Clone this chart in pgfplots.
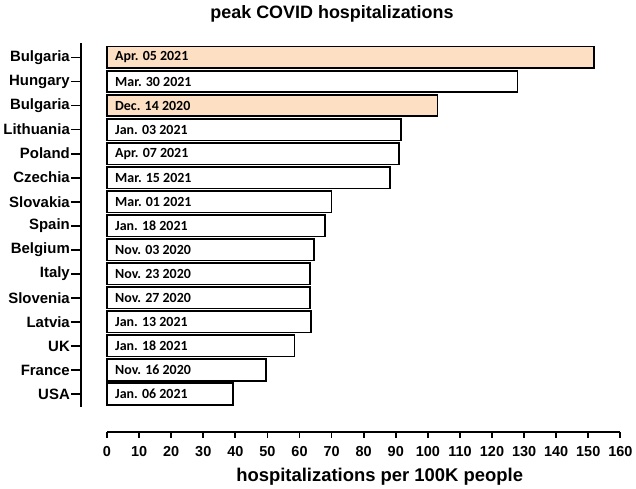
\documentclass[border=0pt]{standalone}
\usepackage{fontspec}
\setmainfont{Liberation Sans}
\newfontfamily\calibri{Carlito}
\usepackage{pgfplots}
\pgfplotsset{compat=1.18}
\definecolor{peach}{RGB}{253,223,196}
\begin{document}
\begin{tikzpicture}[x=1bp,y=1bp]
\useasboundingbox (0,0) rectangle (636,489);
% main bar axis
\begin{axis}[
  at={(81bp,82bp)}, anchor=south west,
  x=3.2083bp, y=24.04bp,
  xmin=-8.1, xmax=160,
  ymin=-0.54, ymax=14.6,
  hide x axis,
  axis y line*=left,
  y axis line style={line width=1.8bp},
  ytick={0,...,14},
  yticklabels={USA,France,UK,Latvia,Slovenia,Italy,Belgium,Spain,Slovakia,Czechia,Poland,Lithuania,Bulgaria,Hungary,Bulgaria},
  tick align=outside,
  major tick length=10bp,
  ytick style={line width=1.8bp, black},
  yticklabel style={font=\bfseries\fontsize{15}{15}\selectfont, inner sep=1bp},
  clip=false,
]
\addplot[xbar, bar width=21.5bp, bar shift=0pt, fill=white, draw=black, line width=1.6bp]
  table[col sep=comma, row sep=\\, x=v, y=y] {
v,y\\
39.2,0\\
49.5,1\\
58.5,2\\
63.5,3\\
63.3,4\\
63.3,5\\
64.6,6\\
68.0,7\\
70.0,8\\
88.3,9\\
91.0,10\\
91.6,11\\
128.0,13\\
};
\addplot[xbar, bar width=21.5bp, bar shift=0pt, fill=peach, draw=black, line width=1.6bp]
  table[col sep=comma, row sep=\\, x=v, y=y] {
v,y\\
103.0,12\\
151.7,14\\
};
\addplot[draw=none, mark=none, point meta=explicit symbolic,
  nodes near coords,
  nodes near coords style={anchor=west, xshift=8bp, inner sep=0pt, font=\calibri\bfseries\fontsize{14}{14}\selectfont}]
  table[col sep=comma, row sep=\\, x=x, y=y, meta=label] {
x,y,label\\
0,0,Jan. 06 2021\\
0,1,Nov. 16 2020\\
0,2,Jan. 18 2021\\
0,3,Jan. 13 2021\\
0,4,Nov. 27 2020\\
0,5,Nov. 23 2020\\
0,6,Nov. 03 2020\\
0,7,Jan. 18 2021\\
0,8,Mar. 01 2021\\
0,9,Mar. 15 2021\\
0,10,Apr. 07 2021\\
0,11,Jan. 03 2021\\
0,12,Dec. 14 2020\\
0,13,Mar. 30 2021\\
0,14,Apr. 05 2021\\
};
\end{axis}
% x axis
\begin{axis}[
  at={(107bp,57bp)}, anchor=south west,
  x=3.2083bp, y=10bp,
  xmin=0, xmax=160, ymin=0, ymax=1,
  hide y axis,
  axis x line*=bottom,
  x axis line style={line width=1.8bp},
  xtick distance=10,
  tick align=outside,
  major tick length=6bp,
  xtick style={line width=1.8bp, black},
  /pgf/number format/assume math mode=true,
  xticklabel style={font=\bfseries\fontsize{14.5}{14.5}\selectfont, yshift=-5bp},
  xlabel={hospitalizations per 100K people},
  xlabel style={font=\bfseries\fontsize{18.5}{18.5}\selectfont, xshift=16bp, yshift=-5bp},
]
\addplot[draw=none] coordinates {(0,0) (160,1)};
\end{axis}
\node[font=\bfseries\fontsize{18}{18}\selectfont] at (332,475) {peak COVID hospitalizations};
\end{tikzpicture}
\end{document}
